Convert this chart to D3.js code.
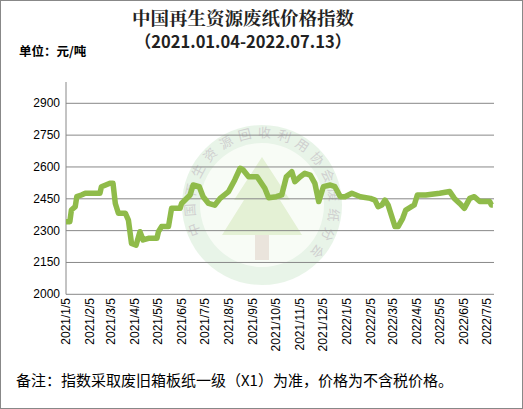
<!DOCTYPE html>
<html>
<head>
<meta charset="utf-8">
<script src="https://cdn.jsdelivr.net/npm/d3@7"></script>
<style>
body { margin: 0; background: #fff; }
svg { display: block; }
</style>
</head>
<body>
<div id="chart"></div>
<script>
const dates = ["2021-01-05","2021-01-10","2021-01-12","2021-01-17","2021-01-19","2021-01-25","2021-01-30","2021-02-18","2021-02-20","2021-03-03","2021-03-07","2021-03-10","2021-03-14","2021-03-23","2021-03-27","2021-03-31","2021-04-06","2021-04-11","2021-04-15","2021-04-22","2021-05-03","2021-05-05","2021-05-09","2021-05-18","2021-05-22","2021-06-02","2021-06-04","2021-06-15","2021-06-19","2021-06-27","2021-07-02","2021-07-09","2021-07-17","2021-07-24","2021-08-04","2021-08-12","2021-08-19","2021-08-23","2021-08-30","2021-09-10","2021-09-20","2021-09-25","2021-10-05","2021-10-12","2021-10-18","2021-10-25","2021-10-29","2021-11-05","2021-11-11","2021-11-18","2021-11-24","2021-11-29","2021-12-05","2021-12-14","2021-12-20","2021-12-27","2022-01-02","2022-01-11","2022-01-22","2022-02-04","2022-02-10","2022-02-14","2022-02-19","2022-02-23","2022-02-27","2022-03-08","2022-03-12","2022-03-18","2022-03-22","2022-04-02","2022-04-06","2022-04-17","2022-05-05","2022-05-18","2022-05-24","2022-05-31","2022-06-06","2022-06-13","2022-06-19","2022-06-26","2022-07-09","2022-07-11","2022-07-13"];
const values = [2342,2342,2397,2413,2460,2468,2476,2476,2507,2523,2523,2428,2382,2382,2350,2240,2232,2295,2256,2264,2264,2295,2319,2319,2405,2405,2428,2468,2515,2507,2460,2428,2420,2452,2484,2539,2594,2586,2554,2554,2500,2455,2460,2468,2554,2578,2531,2554,2570,2562,2523,2437,2507,2515,2507,2460,2460,2476,2460,2452,2444,2413,2421,2444,2421,2319,2319,2358,2397,2421,2468,2468,2476,2484,2452,2428,2405,2452,2460,2437,2437,2421,2421];
const yTicks = [2000,2150,2300,2450,2600,2750,2900];
const xTickLabels = ["2021/1/5","2021/2/5","2021/3/5","2021/4/5","2021/5/5","2021/6/5","2021/7/5","2021/8/5","2021/9/5","2021/10/5","2021/11/5","2021/12/5","2022/1/5","2022/2/5","2022/3/5","2022/4/5","2022/5/5","2022/6/5","2022/7/5"];

const W = 523, H = 409;
const parse = d3.timeParse("%Y-%m-%d");
const parseTick = d3.timeParse("%Y/%m/%d");
const data = dates.map((d, i) => ({date: parse(d), value: values[i]}));

const svg = d3.select("#chart").append("svg").attr("width", W).attr("height", H);
svg.append("rect").attr("x", 0.5).attr("y", 0.5).attr("width", W - 1).attr("height", H - 1)
    .attr("fill", "#fff").attr("stroke", "#888");

const x = d3.scaleTime().domain([parse("2021-01-05"), parse("2022-07-05")]).range([66, 486.7]);
const y = d3.scaleLinear().domain([2000, 2900]).range([294.3, 103.3]);

// watermark
const wm = svg.append("g").attr("transform", "translate(262,205)").attr("opacity", 0.55);
wm.append("circle").attr("r", 80).attr("fill", "#d6ecd6");
wm.append("circle").attr("r", 62).attr("fill", "#f4faf0");
wm.append("path").attr("d", "M0,-48 L28,-5 L18,-5 L40,30 L-40,30 L-18,-5 L-28,-5 Z").attr("fill", "#cfe6b4");
wm.append("rect").attr("x", -7).attr("y", 30).attr("width", 14).attr("height", 25).attr("fill", "#d9cfc0");
const ringText = "中国再生资源回收利用协会废纸分会";
ringText.split("").forEach((c, i) => {
    const a = -200 + i * 16;
    const r = 71, rad = a * Math.PI / 180;
    wm.append("text").attr("x", r * Math.cos(rad)).attr("y", r * Math.sin(rad))
        .attr("transform", `rotate(${a + 90},${r * Math.cos(rad)},${r * Math.sin(rad)})`)
        .attr("text-anchor", "middle").attr("dominant-baseline", "middle")
        .attr("font-size", 13).attr("fill", "#aaa").attr("font-family", "Noto Sans CJK SC").text(c);
});

// grid
svg.append("g").selectAll("line").data(yTicks).join("line")
    .attr("x1", 66).attr("x2", 494).attr("y1", d => y(d)).attr("y2", d => y(d))
    .attr("stroke", "#888").attr("stroke-width", 1);

svg.append("line").attr("x1", 66).attr("x2", 66).attr("y1", 82).attr("y2", 294.3)
    .attr("stroke", "#888");

svg.append("g").selectAll("text").data(yTicks).join("text")
    .attr("x", 60).attr("y", d => y(d) + 4).attr("text-anchor", "end")
    .attr("font-family", "Liberation Sans, Arial").attr("font-size", 12).text(d => d);

svg.append("g").selectAll("text").data(xTickLabels).join("text")
    .attr("transform", d => `translate(${x(parseTick(d)) + 4},298) rotate(-90)`)
    .attr("text-anchor", "end").attr("font-family", "Liberation Sans, Arial")
    .attr("font-size", 12).text(d => d);

const line = d3.line().x(d => x(d.date)).y(d => y(d.value));
svg.append("path").datum(data).attr("d", line).attr("fill", "none")
    .attr("stroke", "#8fbb4a").attr("stroke-width", 5.5).attr("stroke-linejoin", "round");

svg.append("text").attr("x", 243).attr("y", 25).attr("text-anchor", "middle")
    .attr("font-family", "Noto Serif CJK SC, Noto Sans CJK SC").attr("font-weight", "bold")
    .attr("font-size", 18.5).attr("fill", "#222").text("中国再生资源废纸价格指数");
svg.append("text").attr("x", 243).attr("y", 48).attr("text-anchor", "middle")
    .attr("font-family", "Noto Sans CJK SC").attr("font-weight", "bold")
    .attr("font-size", 16.5).attr("fill", "#222").text("（2021.01.04-2022.07.13）");
svg.append("text").attr("x", 19).attr("y", 56)
    .attr("font-family", "Noto Sans CJK SC").attr("font-weight", "bold")
    .attr("font-size", 12.5).text("单位：元/吨");
svg.append("text").attr("x", 16).attr("y", 386)
    .attr("font-family", "Noto Sans CJK SC").attr("font-size", 15)
    .text("备注：指数采取废旧箱板纸一级（X1）为准，价格为不含税价格。");
</script>
</body>
</html>
